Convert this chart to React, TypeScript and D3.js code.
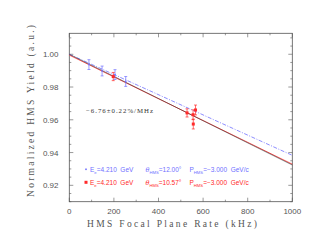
import React from "react";
import * as d3 from "d3";

const blueX = [88, 147, 205, 253];
const blueY = [0.9937, 0.9898, 0.9876, 0.9834];
const blueErr = [0.003, 0.003, 0.003, 0.003];

const redX = [197, 528, 555, 566, 556];
const redY = [0.9864, 0.9642, 0.9631, 0.9660, 0.9574];
const redErr = [0.0025, 0.0025, 0.003, 0.003, 0.003];

const blackFit = [1.0, 0.9324];
const redFit = [0.9995, 0.9329];
const blueFit = [1.0, 0.9383];

const xTicks = [0, 200, 400, 600, 800, 1000];
const yTicks = [0.92, 0.94, 0.96, 0.98, 1.0];

const W = 324, H = 251;
const L = 69.3, R = 292.3, T = 33.3, B = 201.7;

export default function App() {
  const x = d3.scaleLinear().domain([0, 1000]).range([L, R]);
  const y = d3.scaleLinear().domain([0.91, 1.0128]).range([B, T]);
  const grey = "#555";
  const blue = "#7070ff";
  const red = "#ff2a2a";
  const xMinor = d3.range(0, 1001, 100);
  const yMinor = d3.range(0.91, 1.0126, 0.005);
  const line = (v: number[]) => d3.line<number>().x((_, i) => x(i * 1000)).y((d) => y(d))(v) as string;
  const sub = { fontSize: 4.2 };
  const pre = { whiteSpace: "pre" as const };
  return (
    <svg width={W} height={H} style={{ position: "absolute", left: 0, top: 0, background: "#fff" }}>
      <rect x={L} y={T} width={R - L} height={B - T} fill="none" stroke={grey} strokeWidth={0.8} />
      {xMinor.map((v) => {
        const major = v % 200 === 0;
        const len = major ? 4 : 2;
        return (
          <g key={"x" + v}>
            <line x1={x(v)} x2={x(v)} y1={B} y2={B - len} stroke={grey} strokeWidth={0.6} />
            <line x1={x(v)} x2={x(v)} y1={T} y2={T + len} stroke={grey} strokeWidth={0.6} />
          </g>
        );
      })}
      {yMinor.map((v, i) => {
        const major = Math.abs(Math.round(v * 100) - v * 100) < 1e-6 && Math.round(v * 100) % 2 === 0;
        const len = major ? 4 : 2;
        return (
          <g key={"y" + i}>
            <line x1={L} x2={L + len} y1={y(v)} y2={y(v)} stroke={grey} strokeWidth={0.6} />
            <line x1={R} x2={R - len} y1={y(v)} y2={y(v)} stroke={grey} strokeWidth={0.6} />
          </g>
        );
      })}
      {xTicks.map((v) => (
        <text key={"xt" + v} x={x(v)} y={214} textAnchor="middle" fontFamily="Liberation Sans, Arial" fontSize={8} fill={grey}>
          {v}
        </text>
      ))}
      {yTicks.map((v) => (
        <text key={"yt" + v} x={58.5} y={y(v) + 3} textAnchor="end" fontFamily="Liberation Sans, Arial" fontSize={8} fill={grey}>
          {v.toFixed(2)}
        </text>
      ))}
      <text x={87} y={226.5} textLength={170} lengthAdjust="spacing" fontFamily="Liberation Serif, serif" fontSize={9.5} fill={grey}>
        HMS Focal Plane Rate (kHz)
      </text>
      <text transform={`translate(33.5,197) rotate(-90)`} textLength={172} lengthAdjust="spacing" fontFamily="Liberation Serif, serif" fontSize={9.5} fill={grey}>
        Normalized HMS Yield (a.u.)
      </text>

      <path d={line(blueFit)} fill="none" stroke={blue} strokeWidth={0.8} strokeDasharray="4,1.5,1,1.5" />
      <path d={line(redFit)} fill="none" stroke={red} strokeWidth={0.8} />
      <path d={line(blackFit)} fill="none" stroke="#333" strokeWidth={0.6} />

      {blueX.map((v, i) => (
        <g key={"b" + i} stroke={blue} strokeWidth={0.7}>
          <line x1={x(v)} x2={x(v)} y1={y(blueY[i] - blueErr[i])} y2={y(blueY[i] + blueErr[i])} />
          <line x1={x(v) - 1.5} x2={x(v) + 1.5} y1={y(blueY[i] - blueErr[i])} y2={y(blueY[i] - blueErr[i])} />
          <line x1={x(v) - 1.5} x2={x(v) + 1.5} y1={y(blueY[i] + blueErr[i])} y2={y(blueY[i] + blueErr[i])} />
          <rect x={x(v) - 0.7} y={y(blueY[i]) - 0.7} width={1.4} height={1.4} fill={blue} stroke="none" />
        </g>
      ))}
      {redX.map((v, i) => (
        <g key={"r" + i} stroke={red} strokeWidth={0.7}>
          <line x1={x(v)} x2={x(v)} y1={y(redY[i] - redErr[i])} y2={y(redY[i] + redErr[i])} />
          <line x1={x(v) - 1.5} x2={x(v) + 1.5} y1={y(redY[i] - redErr[i])} y2={y(redY[i] - redErr[i])} />
          <line x1={x(v) - 1.5} x2={x(v) + 1.5} y1={y(redY[i] + redErr[i])} y2={y(redY[i] + redErr[i])} />
          <rect x={x(v) - 1.5} y={y(redY[i]) - 1.5} width={3} height={3} fill={red} stroke="none" />
        </g>
      ))}

      <text x={86} y={112.5} fontFamily="Liberation Serif, serif" fontSize={6.8} fill="#333" textLength={67} lengthAdjust="spacing">
        −6.76±0.22%/MHz
      </text>

      <rect x={85.2} y={168.5} width={1.6} height={1.6} fill={blue} />
      <text y={172} fontFamily="Liberation Sans, Arial" fontSize={6.5} fill={blue} style={pre}>
        <tspan x={90}>E</tspan><tspan dy={1.5} style={sub}>e</tspan><tspan dy={-1.5}>=4.210  GeV</tspan>
        <tspan x={145.5} fontFamily="DejaVu Serif, serif" fontStyle="italic" fontSize={6.5}>θ</tspan><tspan dy={1.5} style={sub}>HMS</tspan><tspan dy={-1.5}>=12.00°</tspan>
        <tspan x={189.5}>P</tspan><tspan dy={1.5} style={sub}>HMS</tspan><tspan dy={-1.5}>=−3.000  GeV/c</tspan>
      </text>
      <rect x={84.5} y={180.8} width={3} height={3} fill={red} />
      <text y={185} fontFamily="Liberation Sans, Arial" fontSize={6.5} fill={red} style={pre}>
        <tspan x={90}>E</tspan><tspan dy={1.5} style={sub}>e</tspan><tspan dy={-1.5}>=4.210  GeV</tspan>
        <tspan x={145.5} fontFamily="DejaVu Serif, serif" fontStyle="italic" fontSize={6.5}>θ</tspan><tspan dy={1.5} style={sub}>HMS</tspan><tspan dy={-1.5}>=10.57°</tspan>
        <tspan x={189.5}>P</tspan><tspan dy={1.5} style={sub}>HMS</tspan><tspan dy={-1.5}>=−3.000  GeV/c</tspan>
      </text>
    </svg>
  );
}
